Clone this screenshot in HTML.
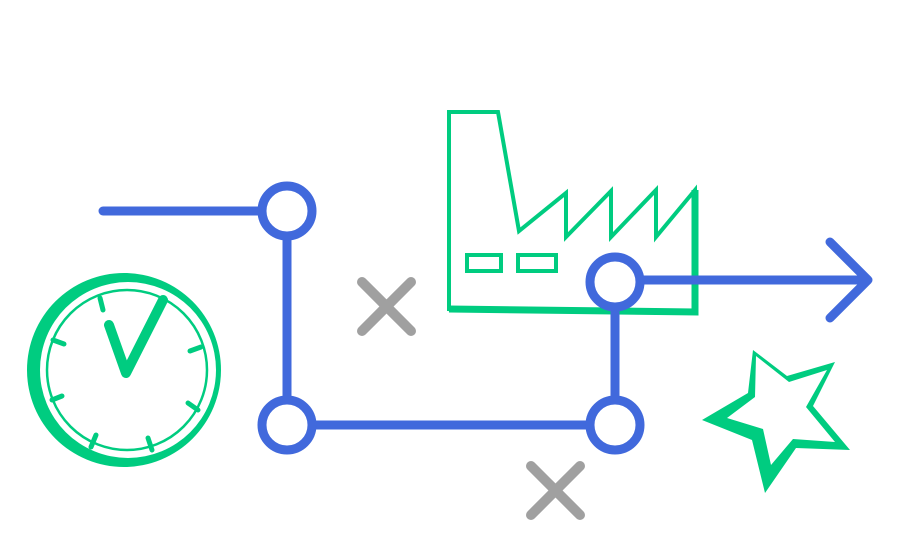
<!DOCTYPE html>
<html><head><meta charset="utf-8"><style>html,body{margin:0;padding:0;background:#fff}svg{display:block}</style></head>
<body>
<svg width="900" height="540" viewBox="0 0 900 540" xmlns="http://www.w3.org/2000/svg">
<!-- factory -->
<g fill="none" stroke="#00cc80" stroke-linejoin="miter">
<path d="M449 112 L498 112 L519 231 L566 193 L566 237 L611 191 L611 237 L656 190 L656 237 L695 190 L695 312 L449 309 Z" stroke-width="4"/>
<path d="M695 190 L695 312 L449 309" stroke-width="7"/>
<rect x="467" y="255" width="34" height="16" stroke-width="4"/>
<rect x="518" y="255" width="38" height="16" stroke-width="4"/>
</g>
<!-- clock -->
<path fill="#00cc80" fill-rule="evenodd" d="M27 370 A97 97 0 1 0 221 370 A97 97 0 1 0 27 370 Z M40 370 A88 88 0 1 0 216 370 A88 88 0 1 0 40 370 Z"/>
<g fill="none" stroke="#00cc80" stroke-linecap="round">
<circle cx="127" cy="370" r="80" stroke-width="2.5"/>
<path d="M109 325 L126 373 L163 300" stroke-width="10" stroke-linejoin="round"/>
<g stroke-width="5">
<line x1="100" y1="298" x2="103" y2="310"/>
<line x1="53" y1="340" x2="64" y2="344"/>
<line x1="190" y1="351" x2="201" y2="347"/>
<line x1="52" y1="400" x2="62" y2="396"/>
<line x1="188" y1="403" x2="198" y2="410"/>
<line x1="96" y1="435" x2="91" y2="447"/>
<line x1="148" y1="438" x2="152" y2="450"/>
</g>
</g>
<!-- star -->
<path fill="#00cc80" fill-rule="evenodd" d="M753 350 L787 376 L835 362 L813 406 L850 450 L796 448 L765 493 L752 440 L702 420 L748 393 Z M756 356 L789 382 L827 370 L806 407 L835 442 L793 439 L771 465 L763 429 L727 418 L755 397 Z"/>
<!-- gray X -->
<g stroke="#a0a0a0" stroke-width="10" stroke-linecap="round">
<line x1="362" y1="282" x2="411" y2="331"/><line x1="411" y1="282" x2="362" y2="331"/>
<line x1="531" y1="466" x2="580" y2="515"/><line x1="580" y1="466" x2="531" y2="515"/>
</g>
<!-- blue -->
<g fill="none" stroke="#4169dc" stroke-width="9" stroke-linecap="round">
<line x1="103" y1="211" x2="262" y2="211"/>
<line x1="287" y1="236" x2="287" y2="400"/>
<line x1="312" y1="425" x2="590" y2="425"/>
<line x1="615" y1="400" x2="615" y2="307"/>
<line x1="640" y1="280" x2="866" y2="280"/>
<path d="M830 242 L868 280 L830 318" stroke-linejoin="round"/>
</g>
<g fill="#fff" stroke="#4169dc" stroke-width="9">
<circle cx="287" cy="211" r="25"/>
<circle cx="287" cy="425" r="25"/>
<circle cx="615" cy="425" r="25"/>
<circle cx="615" cy="282" r="25"/>
</g>
</svg>
</body></html>
